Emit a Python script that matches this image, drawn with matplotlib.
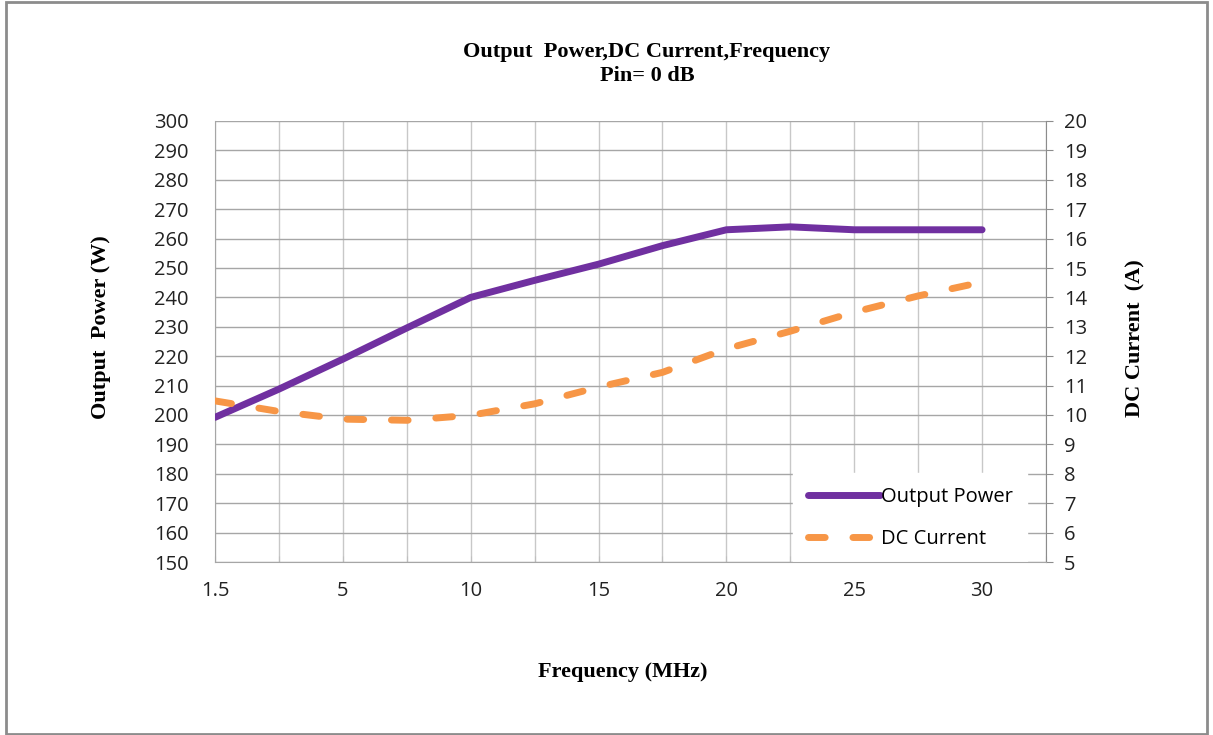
import matplotlib
matplotlib.use("Agg")
import matplotlib.pyplot as plt
from matplotlib.patches import Rectangle
import numpy as np

# ---- data ----
freq_labels = ["1.5", "", "5", "", "10", "", "15", "", "20", "", "25", "", "30"]
output_power = [199.2, 208.8, 219.0, 229.6, 240.0, 245.8, 251.3, 257.6, 263.0, 264.0, 263.0, 263.0, 263.0]
dc_current = [10.48, 10.12, 9.86, 9.82, 9.99, 10.38, 10.95, 11.45, 12.25, 12.85, 13.5, 14.05, 14.52]
left_ticks = list(range(150, 301, 10))
right_ticks = list(range(5, 21, 1))

PURPLE = "#7030A0"
ORANGE = "#F79646"

fig = plt.figure(figsize=(12.13, 7.35), dpi=100)
fig.patch.set_facecolor("white")
# outer chart border
fig.patches.append(Rectangle((6/1213, 1/735), 1 - 12/1213, 1 - 3/735, transform=fig.transFigure,
                             fill=False, edgecolor="#8C8C8C", linewidth=2))

ax = fig.add_axes([215/1213, 1 - 562/735, (1046 - 215)/1213, (562 - 121)/735])
ax2 = ax.twinx()

x = np.arange(len(output_power))
ax.set_xlim(0, len(output_power))
ax.set_ylim(150, 300)
ax2.set_ylim(5, 20)

ax.set_yticks(left_ticks)
ax2.set_yticks(right_ticks)
ax.set_xticks(np.arange(0, len(output_power) + 1))
ax.set_xticklabels(freq_labels + [""])

ax.grid(True, axis="y", color="#A6A6A6", linewidth=1.0)
ax.grid(True, axis="x", color="#C8C8C8", linewidth=1.0)
ax.set_axisbelow(True)

TS = 14.5
for lab in ax.get_yticklabels() + ax2.get_yticklabels() + ax.get_xticklabels():
    lab.set_fontfamily("Open Sans")
    lab.set_fontsize(TS)
    lab.set_color("#222222")

ax.tick_params(axis="y", length=0, pad=19)
ax2.tick_params(axis="y", length=5, color="#8C8C8C", pad=8, direction="out")
ax.tick_params(axis="x", length=4, direction="in", color="#BFBFBF", pad=14)

for a in (ax, ax2):
    for s in a.spines.values():
        s.set_visible(False)
ax2.spines["right"].set_visible(True)
ax2.spines["right"].set_color("#8C8C8C")
ax2.spines["right"].set_zorder(6)
ax2.spines["bottom"].set_visible(True)
ax2.spines["bottom"].set_color("#A6A6A6")
ax2.spines["bottom"].set_zorder(6)
ax.spines["left"].set_visible(True)
ax.spines["left"].set_color("#A6A6A6")

l1, = ax.plot(x, output_power, color=PURPLE, linewidth=5, solid_capstyle="round",
              solid_joinstyle="round", label="Output Power", zorder=3)
l2, = ax2.plot(x, dc_current, color=ORANGE, linewidth=5, linestyle=(0, (2.4, 4.0)),
               dash_capstyle="round", label="DC Current", zorder=3)

leg = ax2.legend([l1, l2], ["Output Power", "DC Current"], loc="lower right",
                 bbox_to_anchor=(1.0 - 16/831, -4/441), frameon=True, fancybox=False,
                 prop={"family": "Open Sans", "size": TS}, handlelength=3.6,
                 handletextpad=0.05, labelspacing=1.1, borderpad=0.7, borderaxespad=0.15)
leg.get_frame().set_edgecolor("white")
leg.get_frame().set_alpha(1.0)
leg.set_zorder(5)

serif = ["Liberation Serif", "DejaVu Serif"]
FS = 16
fig.text(647/1213, 1 - 52/735, "Output  Power,DC Current,Frequency", ha="center", va="center",
         family=serif, fontsize=FS, fontweight="bold")
fig.text(647/1213, 1 - 76/735, "Pin= 0 dB", ha="center", va="center",
         family=serif, fontsize=FS, fontweight="bold")
fig.text(101/1213, 1 - 327/735, "Output  Power (W)", ha="center", va="center", rotation=90,
         family=serif, fontsize=FS, fontweight="bold")
fig.text(1135/1213, 1 - 338/735, "DC Current  (A)", ha="center", va="center", rotation=90,
         family=serif, fontsize=FS, fontweight="bold")
fig.text(623/1213, 1 - 672/735, "Frequency (MHz)", ha="center", va="center",
         family=serif, fontsize=FS, fontweight="bold")

fig.savefig("out.png", dpi=100, facecolor="white")
